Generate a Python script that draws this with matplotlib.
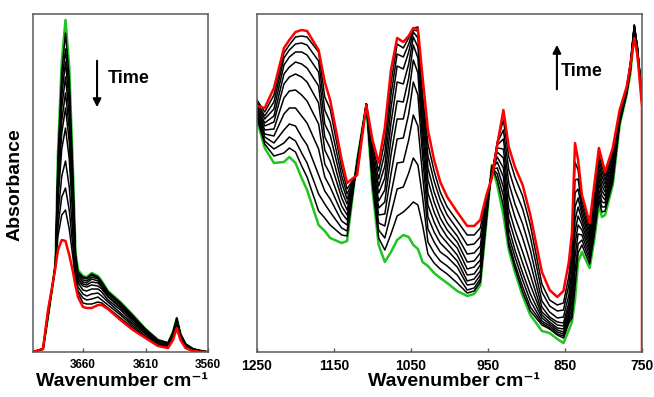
import numpy as np
import matplotlib.pyplot as plt

plt.rcParams['font.family'] = ['Liberation Sans', 'DejaVu Sans']
plt.rcParams['font.weight'] = 'bold'

# ---------------- left panel: O-H region (absorbance, arbitrary units) ----------------
wn_left = [3700, 3692, 3688, 3684, 3682, 3680, 3677, 3674, 3671, 3668, 3666, 3664, 3660, 3657, 3653,
           3648, 3645, 3640, 3630, 3620, 3610, 3600, 3592, 3588, 3585, 3582, 3578, 3572, 3565, 3560]
green_left = [0, 3, 35, 70, 89, 200, 290, 332, 285, 180, 100, 82, 76, 75, 79,
              76, 71, 61, 50, 37, 23, 12, 9, 20, 34, 18, 8, 3, 1, 0]
red_left = [0, 3, 42, 70, 85, 102, 112, 111, 97, 80, 66, 55, 45, 44, 44,
            47, 47, 43, 32, 22, 14, 6, 4, 12, 24, 12, 4, 1, 0, 0]
# one row per wavenumber, columns = intermediate spectra (early -> late)
black_left = [
    [0, 0, 0, 0, 0, 0, 0, 0, 0, 0],
    [3, 3, 3, 3, 3, 3, 3, 3, 3, 3],
    [35, 36, 36, 37, 37, 38, 38, 39, 40, 41],
    [70, 70, 70, 70, 70, 70, 70, 70, 70, 70],
    [89, 89, 88, 88, 88, 87, 87, 86, 86, 85],
    [194, 187, 181, 175, 168, 161, 152, 137, 126, 116],
    [279, 267, 256, 244, 231, 219, 203, 176, 155, 137],
    [319, 303, 290, 275, 259, 244, 224, 191, 164, 142],
    [274, 261, 249, 236, 223, 210, 193, 165, 142, 123],
    [174, 167, 161, 154, 147, 140, 131, 116, 104, 94],
    [98, 96, 94, 91, 89, 86, 83, 78, 74, 71],
    [80, 78, 77, 75, 73, 71, 69, 65, 61, 59],
    [75, 74, 72, 70, 68, 66, 62, 58, 54, 49],
    [74, 73, 71, 69, 67, 65, 61, 56, 52, 48],
    [78, 77, 75, 73, 70, 67, 63, 58, 53, 48],
    [75, 74, 73, 71, 69, 66, 63, 59, 55, 50],
    [70, 69, 68, 66, 65, 63, 60, 56, 52, 49],
    [60, 60, 59, 58, 56, 55, 52, 50, 47, 44],
    [49, 49, 48, 47, 45, 44, 42, 39, 37, 34],
    [36, 36, 35, 34, 33, 32, 30, 28, 26, 24],
    [23, 22, 22, 21, 21, 20, 19, 18, 16, 15],
    [12, 12, 11, 11, 10, 10, 9, 8, 8, 7],
    [9, 9, 8, 8, 8, 7, 7, 6, 5, 5],
    [20, 19, 19, 19, 18, 17, 16, 15, 14, 13],
    [34, 33, 33, 32, 32, 31, 30, 28, 27, 25],
    [18, 18, 17, 17, 17, 16, 15, 14, 14, 13],
    [8, 8, 8, 7, 7, 7, 6, 6, 5, 5],
    [3, 3, 3, 3, 2, 2, 2, 2, 1, 1],
    [1, 1, 1, 1, 1, 1, 0, 0, 0, 0],
    [0, 0, 0, 0, 0, 0, 0, 0, 0, 0],
]
ticks_left = [3660, 3610, 3560]

# ---------------- right panel: fingerprint region ----------------
wn_right = [1250, 1240, 1228, 1215, 1208, 1200, 1192, 1185, 1170, 1162, 1155, 1140, 1133, 1120,
            1108, 1100, 1092, 1084, 1076, 1068, 1060, 1053, 1047, 1041, 1035, 1028, 1020, 1012,
            1003, 990, 977, 968, 960, 952, 945, 938, 930, 923, 915, 905, 895, 880, 870, 860,
            852, 845, 841, 837, 833, 828, 818, 812, 806, 802, 798, 788, 779, 770, 765, 760,
            756, 753, 750]
green_right = [232, 204, 189, 190, 195, 189, 174, 162, 127, 121, 114, 109, 111, 192,
               247, 162, 107, 90, 100, 112, 117, 115, 107, 103, 90, 86, 79, 74,
               69, 61, 56, 58, 67, 130, 187, 167, 137, 102, 80, 56, 37, 21, 19, 13,
               9, 22, 30, 52, 90, 100, 84, 112, 147, 135, 137, 167, 227, 257, 279, 320,
               300, 277, 252]
wn_red_right = wn_right + [750]
red_right = [246, 244, 264, 304, 312, 320, 322, 321, 302, 270, 252, 192, 169, 177,
             247, 212, 189, 224, 282, 314, 310, 316, 324, 323, 275, 222, 192, 170,
             155, 140, 126, 126, 132, 157, 174, 207, 242, 205, 185, 167, 137, 80, 62, 55,
             61, 90, 119, 209, 192, 157, 129, 167, 204, 192, 180, 204, 242, 265, 287, 314,
             297, 272, 245, 0]
black_right = [
    [234, 236, 238, 240, 242, 244, 246, 248, 250, 252],
    [208, 211, 215, 218, 222, 226, 229, 233, 236, 240],
    [196, 203, 209, 216, 223, 230, 236, 243, 250, 257],
    [199, 209, 222, 238, 254, 268, 278, 287, 294, 299],
    [204, 215, 228, 244, 261, 275, 285, 295, 302, 307],
    [200, 211, 226, 244, 262, 278, 290, 300, 308, 315],
    [186, 199, 215, 236, 257, 275, 288, 300, 309, 316],
    [175, 189, 207, 229, 251, 270, 284, 297, 307, 315],
    [141, 158, 177, 203, 228, 249, 266, 280, 291, 300],
    [134, 148, 161, 175, 188, 202, 215, 228, 242, 255],
    [127, 140, 153, 165, 178, 191, 204, 217, 230, 243],
    [117, 124, 131, 139, 146, 154, 161, 169, 176, 184],
    [116, 121, 127, 132, 137, 142, 148, 153, 158, 163],
    [191, 189, 188, 187, 185, 184, 183, 181, 180, 178],
    [248, 248, 248, 248, 248, 248, 248, 248, 248, 248],
    [167, 171, 176, 180, 185, 189, 194, 198, 203, 207],
    [114, 122, 129, 137, 144, 151, 159, 166, 173, 181],
    [102, 114, 126, 138, 150, 162, 174, 186, 199, 211],
    [118, 138, 158, 178, 197, 213, 229, 244, 257, 269],
    [136, 163, 189, 213, 233, 251, 270, 286, 298, 308],
    [140, 165, 190, 214, 233, 250, 268, 283, 295, 304],
    [145, 179, 212, 238, 258, 274, 288, 300, 308, 314],
    [150, 194, 237, 270, 292, 307, 315, 320, 322, 324],
    [147, 187, 226, 257, 279, 294, 305, 314, 321, 325],
    [127, 155, 177, 196, 210, 223, 234, 244, 251, 257],
    [98, 110, 123, 135, 147, 159, 172, 184, 196, 208],
    [89, 99, 110, 120, 130, 140, 150, 160, 171, 181],
    [83, 91, 100, 109, 117, 126, 134, 143, 152, 160],
    [78, 86, 95, 102, 109, 115, 122, 129, 137, 145],
    [69, 77, 85, 91, 97, 104, 110, 116, 123, 131],
    [59, 62, 67, 71, 77, 83, 90, 98, 107, 117],
    [61, 64, 68, 73, 78, 85, 91, 99, 108, 117],
    [70, 73, 77, 81, 87, 92, 99, 106, 115, 124],
    [132, 135, 137, 140, 142, 145, 147, 149, 152, 154],
    [186, 185, 183, 182, 181, 180, 179, 178, 176, 175],
    [172, 178, 184, 190, 195, 200, 204, 207, 209, 210],
    [146, 156, 165, 175, 184, 194, 203, 213, 222, 232],
    [106, 110, 116, 124, 133, 143, 156, 169, 182, 195],
    [84, 88, 95, 102, 112, 122, 135, 148, 162, 175],
    [60, 65, 72, 79, 89, 100, 114, 128, 143, 156],
    [41, 45, 51, 58, 67, 77, 89, 102, 115, 127],
    [27, 29, 31, 34, 37, 40, 45, 51, 60, 68],
    [23, 24, 26, 28, 30, 33, 35, 40, 46, 52],
    [17, 18, 20, 22, 24, 27, 30, 34, 41, 47],
    [14, 16, 18, 20, 23, 26, 29, 35, 42, 49],
    [29, 31, 34, 37, 40, 44, 49, 57, 67, 76],
    [34, 38, 43, 50, 57, 65, 74, 83, 95, 107],
    [65, 80, 95, 108, 120, 132, 145, 159, 172, 190],
    [99, 108, 118, 127, 136, 145, 154, 163, 173, 182],
    [107, 112, 117, 122, 127, 132, 137, 142, 147, 152],
    [88, 92, 96, 100, 104, 108, 112, 116, 120, 125],
    [117, 122, 127, 132, 137, 142, 147, 152, 157, 162],
    [152, 157, 162, 168, 173, 178, 183, 188, 193, 198],
    [140, 145, 150, 156, 161, 166, 171, 176, 181, 186],
    [141, 145, 149, 152, 156, 160, 164, 168, 172, 176],
    [170, 174, 177, 180, 184, 187, 190, 194, 197, 200],
    [228, 230, 231, 232, 234, 235, 236, 238, 239, 241],
    [258, 258, 259, 260, 261, 261, 262, 263, 263, 264],
    [281, 282, 283, 284, 285, 286, 287, 288, 289, 290],
    [321, 322, 323, 324, 325, 326, 326, 327, 327, 326],
    [300, 301, 302, 303, 303, 304, 304, 305, 305, 304],
    [276, 276, 277, 278, 278, 279, 279, 280, 280, 279],
    [253, 254, 255, 256, 256, 257, 257, 258, 258, 257],
]
ticks_right = [1250, 1150, 1050, 950, 850, 750]

green = '#22c422'
spine_col = '#5a5a5a'

fig = plt.figure(figsize=(6.54, 3.97), dpi=100)
ax1 = fig.add_axes([33 / 654, 45 / 397, 175 / 654, 338 / 397])
ax2 = fig.add_axes([257 / 654, 45 / 397, 385 / 654, 338 / 397])


def draw(ax, wn, g, blacks, r, wn_r, ticks, xlim, tick_size):
    ax.plot(wn, g, color=green, lw=1.8, solid_joinstyle='round')
    for col in np.array(blacks).T:
        ax.plot(wn, col, color='black', lw=1.1, solid_joinstyle='round')
    ax.plot(wn_r, r, color='red', lw=1.8, solid_joinstyle='round')
    ax.set_xlim(*xlim)
    ax.set_ylim(0, 338)
    ax.set_yticks([])
    ax.set_xticks(ticks)
    ax.tick_params(axis='x', direction='in', length=3, width=1, color=spine_col,
                   labelsize=tick_size, pad=5)
    for lab in ax.get_xticklabels():
        lab.set_fontweight('bold')
    for s in ax.spines.values():
        s.set_color(spine_col)
        s.set_linewidth(1.1)


draw(ax1, wn_left, green_left, black_left, red_left, wn_left, ticks_left, (3700, 3560), 8.5)
draw(ax2, wn_right, green_right, black_right, red_right, wn_red_right, ticks_right, (1250, 750), 10)

# "Time" arrows
ax1.annotate('', xy=(0.366, 0.716), xytext=(0.366, 0.87), xycoords='axes fraction',
             arrowprops=dict(arrowstyle='-|>', color='black', lw=1.5, mutation_scale=12))
ax1.text(0.425, 0.81, 'Time', transform=ax1.transAxes, fontsize=13, fontweight='bold', va='center')
ax2.annotate('', xy=(0.779, 0.917), xytext=(0.779, 0.769), xycoords='axes fraction',
             arrowprops=dict(arrowstyle='-|>', color='black', lw=1.5, mutation_scale=12))
ax2.text(0.79, 0.831, 'Time', transform=ax2.transAxes, fontsize=13, fontweight='bold', va='center')

fig.text(15 / 654, 1 - 185 / 397, 'Absorbance', rotation=90, ha='center', va='center',
         fontsize=14, fontweight='bold')
fig.text(122 / 654, 1 - 381 / 397, 'Wavenumber cm\u207b\u00b9', ha='center', va='center',
         fontsize=14, fontweight='bold')
fig.text(454 / 654, 1 - 381 / 397, 'Wavenumber cm\u207b\u00b9', ha='center', va='center',
         fontsize=14, fontweight='bold')

fig.savefig('out.png', dpi=100)
